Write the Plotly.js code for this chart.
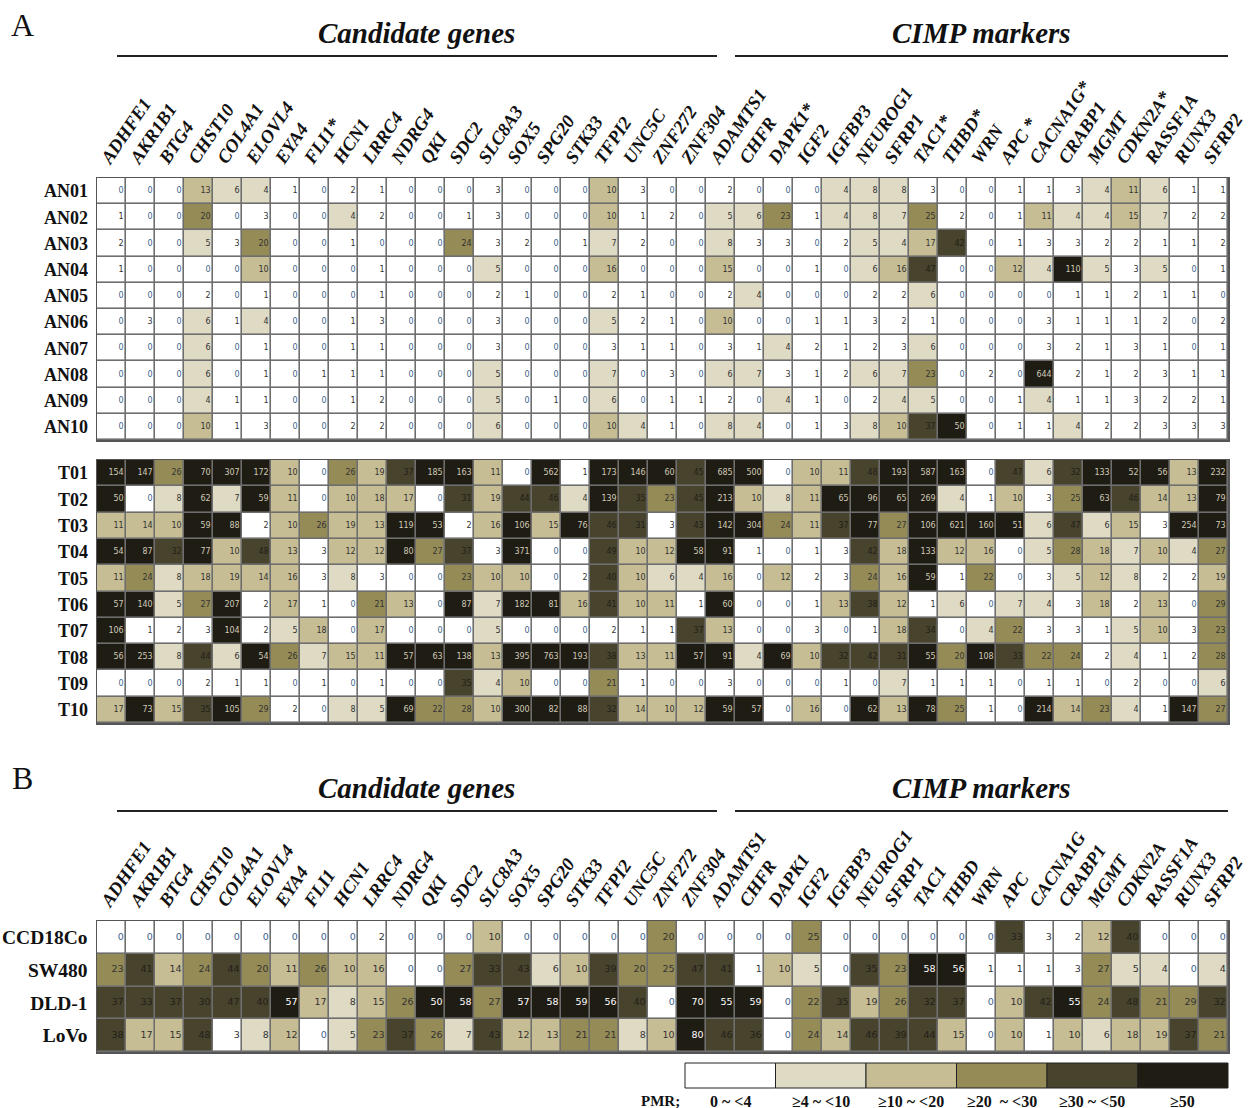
<!DOCTYPE html>
<html><head><meta charset="utf-8">
<script src="https://cdn.plot.ly/plotly-3.0.1.min.js"></script>
<style>body{margin:0;background:#fff}#chart{width:1252px;height:1108px}</style>
</head><body><div id="chart"></div><script>
// ---------- DATA ----------
const genesA = ['ADHFE1','AKR1B1','BTG4','CHST10','COL4A1','ELOVL4','EYA4','FLI1*','HCN1','LRRC4','NDRG4','QKI','SDC2','SLC8A3','SOX5','SPG20','STK33','TFPI2','UNC5C','ZNF272','ZNF304','ADAMTS1','CHFR','DAPK1*','IGF2','IGFBP3','NEUROG1','SFRP1','TAC1*','THBD*','WRN','APC *','CACNA1G*','CRABP1','MGMT','CDKN2A*','RASSF1A','RUNX3','SFRP2'];
const genesB = ['ADHFE1','AKR1B1','BTG4','CHST10','COL4A1','ELOVL4','EYA4','FLI1','HCN1','LRRC4','NDRG4','QKI','SDC2','SLC8A3','SOX5','SPG20','STK33','TFPI2','UNC5C','ZNF272','ZNF304','ADAMTS1','CHFR','DAPK1','IGF2','IGFBP3','NEUROG1','SFRP1','TAC1','THBD','WRN','APC','CACNA1G','CRABP1','MGMT','CDKN2A','RASSF1A','RUNX3','SFRP2'];

const rowsNormal = ['AN01','AN02','AN03','AN04','AN05','AN06','AN07','AN08','AN09','AN10'];
const pmrNormal = [
 [0,0,0,13,6,4,1,0,2,1,0,0,0, 3,0,0,0,10,3,0,0,2,0,0,0,4, 8,8,3,0,0,1,1,3,4,11,6,1,1],
 [1,0,0,20,0,3,0,0,4,2,0,0,1, 3,0,0,0,10,1,2,0,5,6,23,1,4, 8,7,25,2,0,1,11,4,4,15,7,2,2],
 [2,0,0,5,3,20,0,0,1,0,0,0,24, 3,2,0,1,7,2,0,0,8,3,3,0,2, 5,4,17,42,0,1,3,3,2,2,1,1,2],
 [1,0,0,0,0,10,0,0,0,1,0,0,0, 5,0,0,0,16,0,0,0,15,0,0,1,0, 6,16,47,0,0,12,4,110,5,3,5,0,1],
 [0,0,0,2,0,1,0,0,0,1,0,0,0, 2,1,0,0,2,1,0,0,2,4,0,0,0, 2,2,6,0,0,0,0,1,1,2,1,1,0],
 [0,3,0,6,1,4,0,0,1,3,0,0,0, 3,0,0,0,5,2,1,0,10,0,0,1,1, 3,2,1,0,0,0,3,1,1,1,2,0,2],
 [0,0,0,6,0,1,0,0,1,1,0,0,0, 3,0,0,0,3,1,1,0,3,1,4,2,1, 2,3,6,0,0,0,3,2,1,3,1,0,1],
 [0,0,0,6,0,1,0,1,1,1,0,0,0, 5,0,0,0,7,0,3,0,6,7,3,1,2, 6,7,23,0,2,0,644,2,1,2,3,1,1],
 [0,0,0,4,1,1,0,0,1,2,0,0,0, 5,0,1,0,6,0,1,1,2,0,4,1,0, 2,4,5,0,0,1,4,1,1,3,2,2,1],
 [0,0,0,10,1,3,0,0,2,2,0,0,0, 6,0,0,0,10,4,1,0,8,4,0,1,3, 8,10,37,50,0,1,1,4,2,2,3,3,3]
];

const rowsTumor = ['T01','T02','T03','T04','T05','T06','T07','T08','T09','T10'];
const pmrTumor = [
 [154,147,26,70,307,172,10,0,26,19,37,185,163, 11,0,562,1,173,146,60,45,685,500,0,10,11, 48,193,587,163,0,47,6,32,133,52,56,13,232],
 [50,0,8,62,7,59,11,0,10,18,17,0,31, 19,44,46,4,139,35,23,45,213,10,8,11,65, 96,65,269,4,1,10,3,25,63,46,14,13,79],
 [11,14,10,59,88,2,10,26,19,13,119,53,2, 16,106,15,76,46,31,3,43,142,304,24,11,37, 77,27,106,621,160,51,6,47,6,15,3,254,73],
 [54,87,32,77,10,48,13,3,12,12,80,27,37, 3,371,0,0,49,10,12,58,91,1,0,1,3, 42,18,133,12,16,0,5,28,18,7,10,4,27],
 [11,24,8,18,19,14,16,3,8,3,0,0,23, 10,10,0,2,40,10,6,4,16,0,12,2,3, 24,16,59,1,22,0,3,5,12,8,2,2,19],
 [57,140,5,27,207,2,17,1,0,21,13,0,87, 7,182,81,16,41,10,11,1,60,0,0,1,13, 38,12,1,6,0,7,4,3,18,2,13,0,29],
 [106,1,2,3,104,2,5,18,0,17,0,0,0, 5,0,0,0,2,1,1,37,13,0,0,3,0, 1,18,34,0,4,22,3,3,1,5,10,3,23],
 [56,253,8,44,6,54,26,7,15,11,57,63,138, 13,395,763,193,38,13,11,57,91,4,69,10,32, 42,31,55,20,108,33,22,24,2,4,1,2,28],
 [0,0,0,2,1,1,0,1,0,1,0,0,35, 4,10,0,0,21,1,0,0,3,0,0,0,1, 0,7,1,1,1,0,1,1,0,2,0,0,6],
 [17,73,15,35,105,29,2,0,8,5,69,22,28, 10,300,82,88,32,14,10,12,59,57,0,16,0, 62,13,78,25,1,0,214,14,23,4,1,147,27]
];

const rowsCell = ['CCD18Co','SW480','DLD-1','LoVo'];
const pmrCell = [
 [0,0,0,0,0,0,0,0,0,2,0,0,0, 10,0,0,0,0,0,20,0,0,0,0,25,0, 0,0,0,0,0,33,3,2,12,40,0,0,0],
 [23,41,14,24,44,20,11,26,10,16,0,0,27, 33,43,6,10,39,20,25,47,41,1,10,5,0, 35,23,58,56,1,1,1,3,27,5,4,0,4],
 [37,33,37,30,47,40,57,17,8,15,26,50,58, 27,57,58,59,56,40,0,70,55,59,0,22,35, 19,26,32,37,0,10,42,55,24,48,21,29,32],
 [38,17,15,48,3,8,12,0,5,23,37,26,7, 43,12,13,21,21,8,10,80,46,36,0,24,14, 46,39,44,15,0,10,1,10,6,18,19,37,21]
];

const pmrThresholds = [4,10,20,30,50];
const pmrColors = ['#ffffff','#dedac4','#c6bd94','#958b56','#48432c','#1f1c14'];
const legendLabels = ['0 ~ <4','\u22654 ~ <10','\u226510 ~ <20','\u226520  ~ <30','\u226530 ~ <50','\u226550'];

// ---------- HELPERS ----------
const W = 1252, H = 1108;
const px = v => v / W;
const py = v => 1 - v / H;
const cls = v => pmrThresholds.filter(t => v >= t).length;
const nCols = genesA.length;
const colIdx = genesA.map((_, i) => i);
const labelPos = colIdx.map(i => i - 0.3);

const step = [];
pmrColors.forEach((c, k) => { step.push([k / 6, c]); step.push([(k + 1) / 6, c]); });

const serifBold = {family: 'Liberation Serif, Times New Roman, serif', weight: 'bold', color: '#111'};
const cellFont = 'DejaVu Sans, Verdana, sans-serif';

function textColor(v, panelB) {
  const k = cls(v);
  if (k === 5) return panelB ? '#ffffff' : '#cfcab4';
  if (k === 4) return '#22201a';
  if (v === 0) return '#3d5f8c';
  return '#333333';
}

function panelTraces(data, xa, ya, panelB) {
  const z = data.map(r => r.map(cls));
  const hm = {type: 'heatmap', z: z, x: colIdx, y: data.map((_, i) => i), xaxis: xa, yaxis: ya,
    colorscale: step, zmin: -0.5, zmax: 5.5, showscale: false, xgap: 1.6, ygap: 1.6, hoverinfo: 'skip'};
  const tx = [], ty = [], tt = [], tc = [];
  data.forEach((r, i) => r.forEach((v, j) => { tx.push(j + 0.42); ty.push(i); tt.push(String(v)); tc.push(textColor(v, panelB)); }));
  const txt = {type: 'scatter', mode: 'text', x: tx, y: ty, text: tt, xaxis: xa, yaxis: ya,
    textposition: 'middle left', hoverinfo: 'skip', showlegend: false,
    textfont: {family: cellFont, size: panelB ? 9.5 : 8, color: tc}};
  return [hm, txt];
}

const traces = [
  ...panelTraces(pmrNormal, 'x', 'y', false),
  ...panelTraces(pmrTumor, 'x2', 'y2', false),
  ...panelTraces(pmrCell, 'x3', 'y3', true)
];

const xDom = [px(97), px(1228)];
const geneTickFont = {family: 'Liberation Serif, Times New Roman, serif', size: 18.5, weight: 'bold', style: 'italic', color: '#111'};
function xAxis(anchor, labels) {
  return {domain: xDom, anchor: anchor, range: [-0.5, nCols - 0.5], side: 'top',
    tickmode: 'array', tickvals: labels ? labelPos : [], ticktext: labels || [],
    tickangle: -56, tickfont: geneTickFont, ticks: '', ticklabeloverflow: 'allow', automargin: false,
    showgrid: false, zeroline: false,
    showline: true, mirror: true, linecolor: '#555', linewidth: 1.5, fixedrange: true};
}
function yAxis(anchor, dom, names, size, standoff) {
  return {domain: dom, anchor: anchor, range: [names.length - 0.5, -0.5],
    tickmode: 'array', tickvals: names.map((_, i) => i), ticktext: names,
    tickfont: Object.assign({size: size}, serifBold), ticks: '', ticklabelstandoff: standoff,
    ticklabeloverflow: 'allow', automargin: false,
    showgrid: false, zeroline: false, showline: true, mirror: true, linecolor: '#555', linewidth: 1.5, fixedrange: true};
}

const headerFont = {family: 'Liberation Serif, Times New Roman, serif', size: 29, weight: 'bold', style: 'italic', color: '#111'};
const annotations = [
  {text: 'A', x: px(22), y: py(25), font: {family: 'Liberation Serif, serif', size: 32, color: '#111'}},
  {text: 'Candidate genes', x: px(416), y: py(33), font: headerFont},
  {text: 'CIMP markers', x: px(981), y: py(33), font: headerFont},
  {text: 'B', x: px(22), y: py(778), font: {family: 'Liberation Serif, serif', size: 32, color: '#111'}},
  {text: 'Candidate genes', x: px(416), y: py(788), font: headerFont},
  {text: 'CIMP markers', x: px(981), y: py(788), font: headerFont},
  {text: 'PMR;', x: px(660), y: py(1101), font: Object.assign({size: 15}, serifBold)}
];
const shapes = [];
[56, 811].forEach(yy => {
  shapes.push({type: 'line', xref: 'paper', yref: 'paper', x0: px(117), x1: px(717), y0: py(yy), y1: py(yy), line: {color: '#222', width: 2}});
  shapes.push({type: 'line', xref: 'paper', yref: 'paper', x0: px(735), x1: px(1228), y0: py(yy), y1: py(yy), line: {color: '#222', width: 2}});
});
const legX0 = 685, legX1 = 1228, legW = (legX1 - legX0) / pmrColors.length;
pmrColors.forEach((c, k) => {
  shapes.push({type: 'rect', xref: 'paper', yref: 'paper', x0: px(legX0 + k * legW), x1: px(legX0 + (k + 1) * legW),
    y0: py(1088), y1: py(1063), fillcolor: c, line: {color: '#222', width: 1}});
  annotations.push({text: legendLabels[k], x: px(legX0 + (k + 0.5) * legW), y: py(1101),
    font: Object.assign({size: 16}, serifBold)});
});
annotations.forEach(a => { a.xref = 'paper'; a.yref = 'paper'; a.showarrow = false; a.xanchor = 'center'; a.yanchor = 'middle'; });

const layout = {
  width: W, height: H, autosize: false, margin: {l: 0, r: 0, t: 0, b: 0},
  paper_bgcolor: '#ffffff', plot_bgcolor: '#6e6e6e', showlegend: false,
  xaxis: xAxis('y', genesA), yaxis: yAxis('x', [py(440), py(178)], rowsNormal, 18, 4),
  xaxis2: xAxis('y2', null), yaxis2: yAxis('x2', [py(723), py(460)], rowsTumor, 18, 4),
  xaxis3: xAxis('y3', genesB), yaxis3: yAxis('x3', [py(1052), py(921)], rowsCell, 19.5, 4),
  annotations: annotations, shapes: shapes
};
Plotly.newPlot('chart', traces, layout, {displayModeBar: false, staticPlot: true});
</script></body></html>
